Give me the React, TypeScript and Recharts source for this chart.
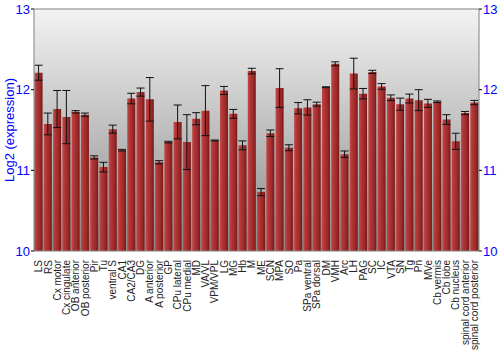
import React from 'react';
import { BarChart, Bar, XAxis, YAxis, CartesianGrid, ErrorBar, ReferenceLine } from 'recharts';

const categories = [
  'LS', 'RS', 'Cx motor', 'Cx cingulate', 'OB anterior', 'OB posterior', 'Pir', 'Tu',
  'ventral S', 'CA1', 'CA2/CA3', 'DG', 'A anterior', 'A posterior', 'GP', 'CPu lateral',
  'CPu medial', 'MD', 'VA/VL', 'VPM/VPL', 'LG', 'MG', 'Hb', 'M',
  'ME', 'SCN', 'MPA', 'SO', 'Pa', 'SPa ventral', 'SPa dorsal', 'DM',
  'VMH', 'Arc', 'LH', 'PAG', 'SC', 'IC', 'VTA', 'SN',
  'Tg', 'Pn', 'MVe', 'Cb vermis', 'Cb lobe', 'Cb nucleus', 'spinal cord anterior', 'spinal cord posterior',
];

const values = [
  12.21, 11.575, 11.76, 11.66, 11.725, 11.69, 11.16, 11.04,
  11.51, 11.25, 11.89, 11.97, 11.88, 11.1, 11.35, 11.6,
  11.35, 11.64, 11.74, 11.37, 11.99, 11.7, 11.31, 12.23,
  10.73, 11.46, 12.02, 11.28, 11.77, 11.78, 11.82, 12.03,
  12.32, 11.2, 12.2, 11.95, 12.22, 12.04, 11.9, 11.82,
  11.89, 11.87, 11.83, 11.85, 11.63, 11.36, 11.71, 11.84,
];

const errors = [
  0.093, 0.135, 0.23, 0.33, 0.015, 0.02, 0.02, 0.06,
  0.05, 0.01, 0.065, 0.05, 0.27, 0.02, 0.01, 0.21,
  0.34, 0.075, 0.31, 0.006, 0.05, 0.055, 0.055, 0.035,
  0.045, 0.04, 0.24, 0.037, 0.07, 0.095, 0.025, 0.006,
  0.025, 0.04, 0.19, 0.065, 0.02, 0.035, 0.035, 0.075,
  0.055, 0.13, 0.05, 0.01, 0.06, 0.1, 0.02, 0.027,
];

const yTicks = [10, 11, 12, 13];

const data = categories.map((name, i) => ({ name, value: values[i], err: errors[i] }));

const FONT = '"Liberation Sans", Arial, sans-serif';

const XTick = (props: any) => {
  const { x, y, payload } = props;
  return (
    <text
      x={x}
      y={y + 1}
      transform={`rotate(-90 ${x} ${y + 1})`}
      textAnchor="end"
      dy="0.36em"
      fontSize={10}
      fontFamily={FONT}
      fill="#222"
    >
      {payload.value}
    </text>
  );
};

export default function App() {
  return (
    <div style={{ position: 'absolute', left: 0, top: 0, width: 500, height: 350, background: '#fff' }}>
      <BarChart
        width={500}
        height={350}
        data={data}
        margin={{ top: 9, right: 0, left: 0, bottom: 0 }}
        barCategoryGap="6%"
      >
        <defs>
          <linearGradient id="bgGrad" x1="0" y1="0" x2="0" y2="1">
            <stop offset="0%" stopColor="#f3f3f3" />
            <stop offset="100%" stopColor="#8a8a8a" />
          </linearGradient>
          <linearGradient id="barGrad" x1="0" y1="0" x2="1" y2="0">
            <stop offset="0%" stopColor="#c24a4a" />
            <stop offset="30%" stopColor="#b03636" />
            <stop offset="70%" stopColor="#9c2828" />
            <stop offset="100%" stopColor="#741818" />
          </linearGradient>
        </defs>
        <CartesianGrid
          vertical={false}
          stroke="#ffffff"
          strokeOpacity={0.85}
          fill="url(#bgGrad)"
          fillOpacity={1}
        />
        <XAxis
          dataKey="name"
          interval={0}
          height={99}
          tick={<XTick />}
          tickLine={false}
          axisLine={{ stroke: '#808080' }}
        />
        <YAxis
          yAxisId="left"
          orientation="left"
          width={34}
          domain={[10, 13]}
          ticks={yTicks}
          allowDataOverflow
          tickSize={3}
          tickMargin={1}
          tickLine={{ stroke: '#000' }}
          axisLine={{ stroke: '#808080' }}
          tick={{ fill: '#0000ff', fontSize: 13, fontFamily: FONT }}
          label={(p: any) => {
            const vb = p.viewBox || { x: 0, y: 9, width: 34, height: 242 };
            const cx = 9;
            const cy = vb.y + vb.height / 2;
            return (
              <text
                x={cx}
                y={cy}
                transform={`rotate(-90 ${cx} ${cy})`}
                textAnchor="middle"
                dominantBaseline="central"
                fill="#0000ff"
                fontSize={13}
                fontFamily={FONT}
              >
                Log2 (expression)
              </text>
            );
          }}
        />
        <YAxis
          yAxisId="right"
          orientation="right"
          width={21}
          domain={[10, 13]}
          ticks={yTicks}
          allowDataOverflow
          tickSize={3}
          tickMargin={1}
          tickLine={{ stroke: '#000' }}
          axisLine={{ stroke: '#808080' }}
          tick={{ fill: '#0000ff', fontSize: 13, fontFamily: FONT }}
        />
        <ReferenceLine yAxisId="left" y={13} stroke="#808080" />
        <Bar yAxisId="left" dataKey="value" fill="url(#barGrad)" isAnimationActive={false}>
          <ErrorBar dataKey="err" width={4} stroke="#111" strokeWidth={1} direction="y" />
        </Bar>
      </BarChart>
    </div>
  );
}
